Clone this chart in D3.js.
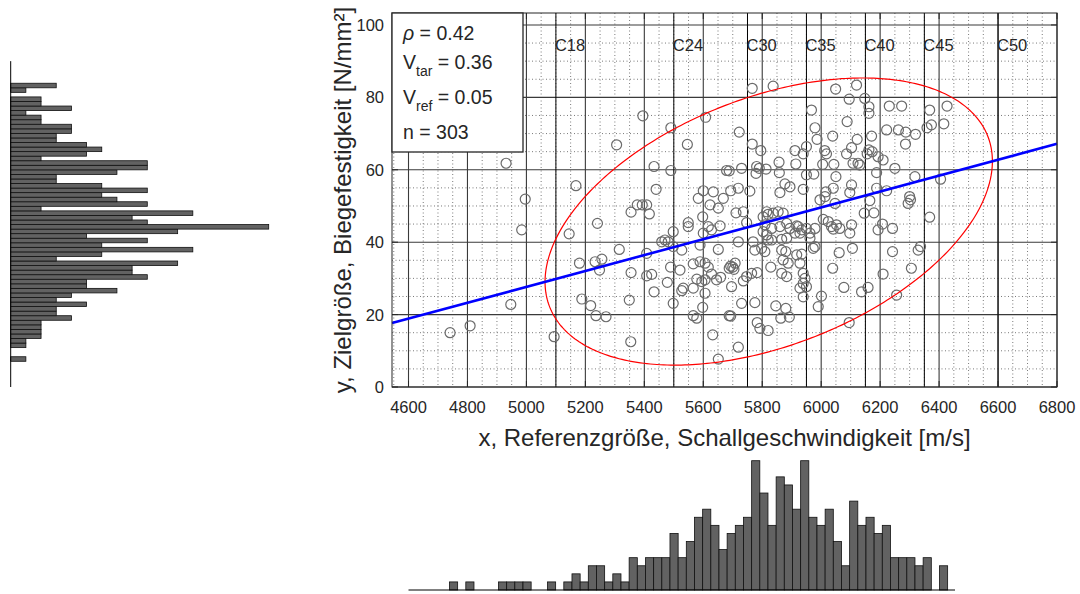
<!DOCTYPE html>
<html><head><meta charset="utf-8">
<script src="https://cdn.jsdelivr.net/npm/d3@7"></script>
<style>body{margin:0;background:#fff}svg{display:block}text{font-family:"Liberation Sans",Arial,sans-serif;fill:#262626}</style>
</head><body>
<svg id="c" width="1080" height="594"></svg>
<script>
// ---------------- data ----------------
const xTicks = [4600,4800,5000,5200,5400,5600,5800,6000,6200,6400,6600,6800];
const yTicks = [0,20,40,60,80,100];
const classNames = ["C18","C24","C30","C35","C40","C45","C50"];
const classLimits = [5100,5500,5750,5950,6150,6350,6600];
const statLabels = ["ρ = 0.42","V_tar = 0.36","V_ref = 0.05","n = 303"];
const meanX = 5822, meanY = 45.7, sdX = 310, sdY = 16.2, rho = 0.42, chi2k = 2.4477;
const xHistRange = [4739, 6429];
const xHistCounts = [1,0,1,0,0,0,1,1,1,1,0,0,1,0,1,2,1,3,3,1,2,1,4,3,4,4,4,7,4,6,9,10,8,5,7,8,9,16,12,8,14,13,10,16,9,8,10,6,3,11,8,9,7,8,4,4,4,3,4,0,3];
const yHistRange = [7.1, 83.9];
const yHistCounts = [1,0,0,1,1,2,2,2,2,4,3,3,5,3,4,7,5,5,9,8,8,11,3,6,12,6,9,5,11,17,9,8,12,2,9,7,6,9,6,3,3,7,9,9,2,5,6,5,3,3,4,4,2,2,1,4,2,2,0,1,3];
const ptsX = [5395,5490,5608,5306,5546,4931,5433,5490,5679,5168,5440,5600,5634,4996,
5766,5837,6049,6120,6095,6148,6162,6162,6231,6273,5967,6368,6427,5722,5979,6088,6039,6222,6262,6287,6320,6359,6374,6416,6286,5986,6122,6171,5766,5795,5950,5911,5939,6012,6018,6103,6086,6162,6173,6156,6193,6210,5857,5914,6005,6043,6108,6125,6131,5781,5790,5779,5813,5730,5688,5858,5950,5975,6050,6188,6250,6318,6405,5693,5719,5758,5860,5877,5894,5939,6103,6097,6188,6222,6016,6041,6300,
5355,5376,5393,5408,5417,5583,5668,5623,5651,4984,5145,5241,5549,5549,5598,5600,5617,5628,5657,5498,5315,5408,5459,5470,5481,5498,5527,5589,5651,5180,5233,5256,5248,5355,5408,5425,5489,5521,5478,5566,5589,5606,5617,5628,5645,5659,5688,5578,5595,5606,5566,5532,5527,5433,5606,5498,5598,5188,5218,5236,5270,5349,4947,5566,5578,5688,4809,4741,5094,5354,5632,5651,
5711,5736,5747,5719,5693,5700,5708,5704,5696,5730,5736,5747,5764,5783,5775,5693,5719,5783,5792,5820,5846,5880,5863,5892,5769,5775,5809,5798,5815,5803,5820,5837,5854,5871,5809,5832,5803,5815,5820,5860,5883,5894,5911,5922,5934,5832,5866,5883,5866,5880,5871,5888,5866,5883,5829,5917,5934,5928,5939,5945,5939,5928,5939,5950,5917,5928,5950,5962,5979,5962,5973,5979,5990,6001,6007,6024,6035,6052,6063,6041,5996,6013,6047,6061,6039,6077,6097,6103,6106,6137,6159,6095,6146,6179,6165,6193,6208,6242,6242,6210,6256,6329,6337,6306,6295,6303,6368];
const ptsY = [74.9,71.6,74.5,66.9,67.0,61.8,60.9,59.8,59.8,55.6,54.6,54.2,53.9,51.9,
82.5,83.1,82.3,83.4,79.5,79.7,77.4,75.6,77.6,77.6,76.5,76.5,77.6,70.4,71.6,73.3,69.3,71.0,71.0,70.4,69.8,71.6,72.4,72.7,67.1,68.4,68.4,69.3,67.1,65.3,66.4,65.3,64.4,65.3,64.4,66.1,64.4,65.5,65.0,64.4,63.6,62.7,62.1,61.6,61.5,61.5,61.8,61.8,61.3,60.9,60.4,59.0,60.2,60.4,59.7,59.2,58.6,58.8,58.1,59.2,60.4,58.1,57.4,54.2,54.9,54.1,53.7,56.1,55.3,54.6,55.8,53.7,54.9,54.2,53.9,54.9,52.6,
48.3,50.3,50.3,50.3,47.8,52.1,52.1,50.3,49.4,43.4,42.3,45.2,45.4,44.3,47.0,42.5,44.3,43.4,44.5,42.9,38.0,36.9,40.1,40.6,40.1,38.8,37.8,39.2,38.0,34.2,34.6,35.3,32.3,31.6,30.7,31.1,33.1,32.3,28.9,34.0,34.6,34.2,33.1,31.2,29.6,30.3,32.8,29.8,29.1,29.6,27.3,27.3,26.6,26.3,25.9,23.1,22.0,24.3,22.5,19.7,19.4,24.0,22.8,19.7,19.0,19.7,16.9,15.0,13.9,12.5,14.4,7.7,
48.1,48.4,45.4,40.1,33.4,33.1,34.2,32.5,27.7,23.1,29.3,30.5,31.4,31.6,23.3,19.6,11.0,17.8,16.2,15.6,22.4,21.7,19.0,19.3,40.1,37.8,37.4,38.3,48.4,47.0,47.7,48.0,48.4,48.0,44.8,43.8,42.9,42.0,40.6,44.3,45.2,43.8,42.5,44.3,43.4,40.6,40.8,41.1,37.8,37.4,35.1,34.2,31.4,30.5,33.1,36.5,36.7,34.2,31.4,30.0,28.6,27.3,24.9,27.7,44.5,42.5,43.8,42.5,43.8,41.1,38.3,38.8,22.2,25.1,46.3,45.7,44.3,44.8,43.8,43.6,51.7,52.6,50.7,37.1,32.8,27.5,42.5,44.8,38.3,26.3,27.5,17.8,48.0,48.1,51.5,43.4,45.0,43.8,37.4,31.2,25.4,37.8,38.8,32.8,50.7,51.7,46.9];

// ---------------- layout ----------------
const svg = d3.select("#c");
const L = 392, R = 1057, T = 13, B = 387;
const x = d3.scaleLinear().domain([4544, 6800]).range([L, R]);
const y = d3.scaleLinear().domain([0, 103.3]).range([B, T]);

svg.append("rect").attr("width",1080).attr("height",594).attr("fill","#fff");

// minor grid
const g = svg.append("g");
g.selectAll(".mx").data(d3.range(4550, 6800, 50).filter(v => v % 200 !== 0)).join("line")
  .attr("x1", d => x(d)).attr("x2", d => x(d)).attr("y1", T).attr("y2", B)
  .attr("stroke", "#7a7a7a").attr("stroke-width", 1).attr("stroke-dasharray", "1,2.5");
g.selectAll(".my").data(d3.range(5, 103, 5).filter(v => v % 20 !== 0)).join("line")
  .attr("x1", L).attr("x2", R).attr("y1", d => y(d)).attr("y2", d => y(d))
  .attr("stroke", "#7a7a7a").attr("stroke-width", 1).attr("stroke-dasharray", "1,2.5");
// major grid
g.selectAll(".Mx").data(xTicks).join("line")
  .attr("x1", d => x(d)).attr("x2", d => x(d)).attr("y1", T).attr("y2", B)
  .attr("stroke", "#3a3a3a").attr("stroke-width", 1.1);
g.selectAll(".My").data(yTicks).join("line")
  .attr("x1", L).attr("x2", R).attr("y1", d => y(d)).attr("y2", d => y(d))
  .attr("stroke", "#3a3a3a").attr("stroke-width", 1.1);
// strength class lines
g.selectAll(".cl").data(classLimits).join("line")
  .attr("x1", d => x(d)).attr("x2", d => x(d)).attr("y1", T).attr("y2", B)
  .attr("stroke", "#000").attr("stroke-width", 1);
g.selectAll(".ct").data(classNames).join("text")
  .attr("x", (d,i) => x(classLimits[i]) - 1).attr("y", 51)
  .attr("font-size", 16.5).attr("fill", "#000").text(d => d);

// scatter
svg.append("g").selectAll("circle").data(ptsX).join("circle")
  .attr("cx", d => x(d)).attr("cy", (d,i) => y(ptsY[i])).attr("r", 5)
  .attr("fill", "none").attr("stroke", "#6b6b6b").attr("stroke-width", 1.2);

// ellipse
const hx = sdX * chi2k, hy = sdY * chi2k;
const ell = d3.range(0, 2*Math.PI + 0.001, Math.PI/180).map(t => [
  meanX + hx * Math.cos(t),
  meanY + hy * (rho * Math.cos(t) + Math.sqrt(1 - rho*rho) * Math.sin(t))
]);
svg.append("path").attr("d", d3.line().x(d => x(d[0])).y(d => y(d[1]))(ell))
  .attr("fill", "none").attr("stroke", "#ff0000").attr("stroke-width", 1.2);

// regression line
const slope = rho * sdY / sdX;
const x0 = x.domain()[0], x1 = x.domain()[1];
svg.append("line")
  .attr("x1", x(x0)).attr("y1", y(meanY + slope*(x0-meanX)))
  .attr("x2", x(x1)).attr("y2", y(meanY + slope*(x1-meanX)))
  .attr("stroke", "#0000ff").attr("stroke-width", 2.6);

// frame & ticks
svg.append("rect").attr("x", L).attr("y", T).attr("width", R-L).attr("height", B-T)
  .attr("fill", "none").attr("stroke", "#262626").attr("stroke-width", 1);
const tk = svg.append("g").attr("stroke", "#262626").attr("stroke-width", 1);
xTicks.forEach(v => {
  tk.append("line").attr("x1", x(v)).attr("x2", x(v)).attr("y1", B).attr("y2", B-6);
  tk.append("line").attr("x1", x(v)).attr("x2", x(v)).attr("y1", T).attr("y2", T+6);
});
yTicks.forEach(v => {
  tk.append("line").attr("x1", L).attr("x2", L+6).attr("y1", y(v)).attr("y2", y(v));
  tk.append("line").attr("x1", R).attr("x2", R-6).attr("y1", y(v)).attr("y2", y(v));
});
svg.append("g").selectAll("text").data(xTicks).join("text")
  .attr("x", d => x(d)).attr("y", 413).attr("text-anchor", "middle")
  .attr("font-size", 16.5).text(d => d);
svg.append("g").selectAll("text").data(yTicks).join("text")
  .attr("x", 384).attr("y", d => y(d) + 6).attr("text-anchor", "end")
  .attr("font-size", 16.5).text(d => d);

// axis titles
svg.append("text").attr("x", (L+R)/2).attr("y", 446).attr("text-anchor", "middle")
  .attr("font-size", 24).text("x, Referenzgröße, Schallgeschwindigkeit [m/s]");
svg.append("text").attr("transform", `translate(351,${(T+B)/2}) rotate(-90)`)
  .attr("text-anchor", "middle").attr("font-size", 24)
  .text("y, Zielgröße, Biegefestigkeit [N/mm²]");

// stats box
svg.append("rect").attr("x", L).attr("y", T).attr("width", 131).attr("height", 139)
  .attr("fill", "#fff").attr("stroke", "#262626").attr("stroke-width", 1.3);
const baselines = [40, 68.5, 103.5, 138.5];
statLabels.forEach((s, i) => {
  const t = svg.append("text").attr("x", 403).attr("y", baselines[i]).attr("font-size", 19.5).attr("fill","#000");
  const m = s.match(/^(\w)_(\w+)(.*)$/);
  if (m) {
    t.append("tspan").text(m[1]);
    t.append("tspan").attr("dy", 7.5).attr("font-size", 14).text(m[2]);
    t.append("tspan").attr("dy", -7.5).text(m[3]);
  } else if (s.startsWith("ρ")) {
    t.append("tspan").attr("font-style", "italic").text("ρ");
    t.append("tspan").text(s.slice(1));
  } else t.text(s);
});

// ---------------- marginal histograms ----------------
// bottom (x) histogram
const xbw = (xHistRange[1] - xHistRange[0]) / xHistCounts.length;
const xBins = xHistCounts.map((c, i) => ({c, x0: xHistRange[0] + i*xbw, x1: xHistRange[0] + (i+1)*xbw})).filter(d => d.c > 0);
const cx = d3.scaleLinear().domain([0, 16]).range([590, 460.7]);
svg.append("g").selectAll("rect").data(xBins).join("rect")
  .attr("x", d => x(d.x0)).attr("width", d => x(d.x1) - x(d.x0))
  .attr("y", d => cx(d.c)).attr("height", d => cx(0) - cx(d.c))
  .attr("fill", "#626262").attr("stroke", "#111").attr("stroke-width", 0.8);
svg.append("line").attr("x1", x(4600)).attr("x2", 955).attr("y1", 590).attr("y2", 590)
  .attr("stroke", "#000").attr("stroke-width", 1);

// left (y) histogram
const ybw = (yHistRange[1] - yHistRange[0]) / yHistCounts.length;
const yBins = yHistCounts.map((c, i) => ({c, y0: yHistRange[0] + i*ybw, y1: yHistRange[0] + (i+1)*ybw})).filter(d => d.c > 0);
const cy = d3.scaleLinear().domain([0, 17]).range([10.7, 268.7]);
svg.append("g").selectAll("rect").data(yBins).join("rect")
  .attr("x", cy(0)).attr("y", d => y(d.y1)).attr("height", d => y(d.y0) - y(d.y1))
  .attr("width", d => cy(d.c) - cy(0))
  .attr("fill", "#626262").attr("stroke", "#111").attr("stroke-width", 0.8);
svg.append("line").attr("x1", cy(0)).attr("x2", cy(0)).attr("y1", y(0)).attr("y2", y(90))
  .attr("stroke", "#000").attr("stroke-width", 1);
</script>
</body></html>
